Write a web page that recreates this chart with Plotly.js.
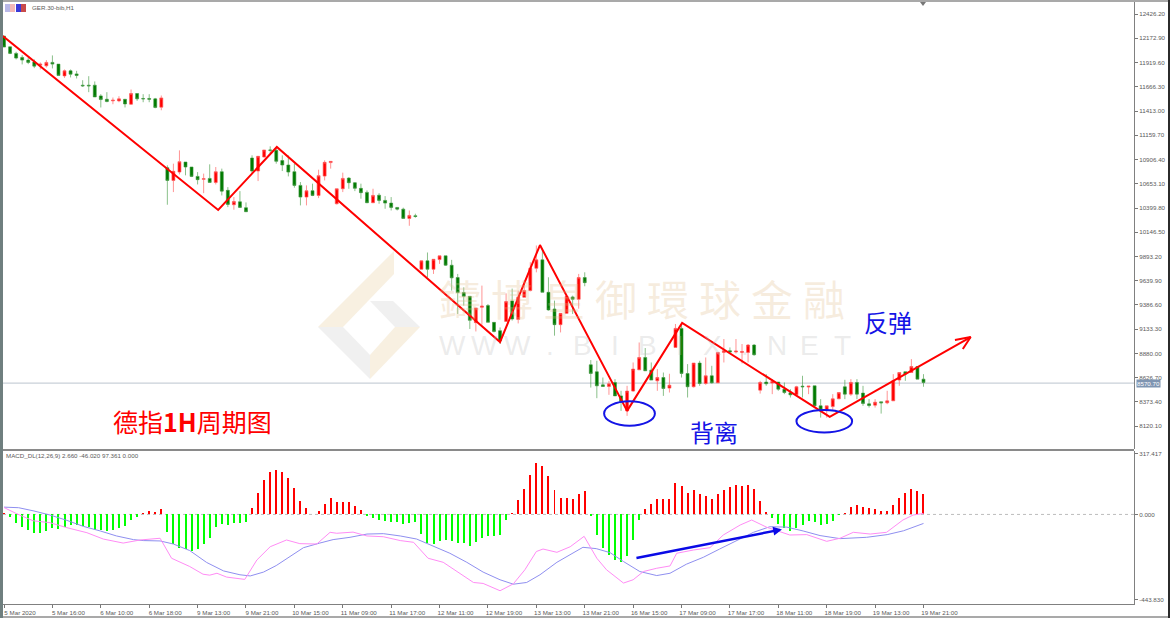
<!DOCTYPE html>
<html>
<head>
<meta charset="utf-8">
<script src="https://cdn.plot.ly/plotly-3.0.1.min.js"></script>
<style>
html, body { margin: 0; padding: 0; background: #fff; overflow: hidden; }
#chart { width: 1170px; height: 618px; }
</style>
</head>
<body>
<div id="chart"></div>
<script>
// GER.30 H1 candles
var opens = [12196,12084,12015,11973,11945,11924,11892,11885,11921,11903,11780,11833,11801,11683,11683,11683,11571,11536,11519,11519,11536,11484,11596,11544,11544,11540,11453,
  10821,10688,10775,10880,10828,10730,10699,10709,10667,10779,10584,10434,10465,10403,
  10922,10786,10932,11006,11003,10895,10849,
  10779,10636,10514,10580,10531,10733,10874,10444,10601,10712,10664,10605,10563,10455,10534,10479,10451,10406,10388,10291,10319,
  9760,9848,9760,9861,9900,9802,9673,9516,9477,9202,9362,9380,9205,9118,9215,9429,9236,9467,9537,9770,9858,9519,9345,9181,9299,9471,9446,9673,
  8762,8689,8552,8535,8577,8437,8280,8487,8709,8838,8706,8594,8629,8518,8943,9142,8671,8532,8780,8566,8647,8573,8891,8909,8895,8891,8891,8968,
  8497,8581,8571,8581,8507,8469,8448,8539,8529,8542,8333,8288,8325,8406,8532,8455,8577,8466,8354,8340,8375,8364,8385,8602,8689,8681,8744,8612];
var highs = [12196,12084,12032,11997,11973,11952,11921,11945,11994,11903,11847,11847,11833,11735,11777,11722,11589,11610,11554,11568,11536,11638,11596,11589,11589,11550,11575,
  10845,10863,11002,10880,10828,10775,10759,10856,10828,10811,10618,10514,10576,10458,
  10950,10940,11006,11044,11037,10950,10950,
  10863,10671,10636,10654,10800,10898,10887,10601,10769,10723,10671,10654,10584,10601,10555,10524,10514,10406,10403,10374,10340,
  9851,9935,9864,9900,9900,9858,9711,9571,9477,9356,9589,9397,9205,9152,9508,9558,9537,9641,9833,10008,9976,9676,9432,9299,9502,9484,9711,9728,
  8811,8804,8629,8594,8612,8490,8542,8786,8995,8937,8786,8717,8681,8668,9188,9188,8769,8780,8804,8838,8751,8891,9031,8943,9031,8979,8979,8979,
  8594,8664,8612,8581,8577,8507,8542,8647,8539,8542,8403,8333,8455,8472,8605,8612,8612,8542,8403,8403,8375,8490,8664,8681,8689,8821,8744,8664];
var lows = [12081,12008,11952,11900,11903,11861,11847,11868,11858,11785,11759,11764,11753,11665,11610,11560,11450,11505,11484,11505,11450,11477,11519,11505,11505,11442,11421,
  10434,10566,10751,10741,10723,10646,10555,10667,10646,10531,10409,10382,10403,10361,
  10765,10681,10926,10974,10863,10786,10730,
  10612,10427,10427,10524,10503,10688,10811,10437,10566,10601,10576,10497,10451,10451,10444,10392,10374,10374,10291,10214,10298,
  9757,9676,9711,9816,9795,9537,9293,9380,9136,9110,9181,9205,9100,8979,9215,9223,9194,9467,9529,9728,9519,9327,9066,9100,9293,9293,9348,9582,
  8524,8413,8535,8448,8437,8280,8228,8479,8709,8699,8602,8490,8437,8472,8943,8629,8420,8524,8542,8552,8566,8573,8786,8880,8880,8776,8786,8856,
  8461,8542,8455,8490,8455,8420,8437,8420,8455,8315,8210,8210,8280,8403,8403,8437,8403,8333,8315,8315,8252,8350,8385,8542,8594,8681,8612,8532];
var closes = [12081,12015,11966,11945,11921,11882,11903,11921,11903,11785,11833,11798,11785,11676,11676,11560,11533,11512,11526,11540,11487,11596,11540,11540,11536,11450,11550,
  10688,10783,10884,10828,10730,10696,10706,10667,10779,10576,10437,10468,10406,10361,
  10786,10940,11006,11003,10887,10849,10775,
  10636,10514,10580,10531,10738,10877,10887,10601,10709,10664,10605,10560,10455,10531,10479,10451,10406,10388,10291,10322,10311,
  9848,9760,9864,9900,9802,9670,9516,9477,9226,9356,9376,9205,9110,9013,9422,9240,9467,9537,9770,9858,9519,9335,9181,9299,9477,9446,9673,9620,
  8671,8542,8535,8563,8437,8377,8487,8717,8838,8699,8602,8629,8514,8549,9142,8671,8532,8780,8566,8647,8573,8891,8909,8895,8905,8901,8968,8867,
  8577,8563,8587,8507,8472,8448,8532,8532,8539,8333,8288,8333,8406,8472,8455,8577,8455,8357,8336,8371,8364,8385,8594,8681,8665,8744,8612,8577];

// MACD histogram, one value per candle
var histVals = [5,-14,-43,-64,-81,-95,-97,-85,-73,-76,-67,-55,-55,-60,-64,-81,-81,-86,-81,-69,-59,-29,-12,
  5,17,14,26,-93,-155,-176,-181,-190,-180,-154,-124,-66,-52,-57,-47,-43,-40,
  35,112,178,223,230,219,188,135,69,31,2,17,54,83,64,67,64,45,22,
  -7,-17,-29,-35,-40,-40,-48,-43,-40,-102,-150,-155,-136,-135,-136,-147,-147,-164,-145,-123,-114,-111,-107,-29,
  7,73,130,204,266,250,199,128,88,86,79,105,121,
  -7,-107,-173,-211,-237,-249,-216,-133,-29,
  29,55,79,79,81,164,149,112,128,105,98,79,107,126,145,152,149,154,133,69,12,
  -21,-52,-69,-85,-72,-55,-35,-41,-55,-52,-35,-5,
  9,41,50,41,31,28,19,19,50,86,109,133,123,104];

var signalX = [0,2.4,4.8,7.6,10.4,13.1,15.9,18.6,21.4,23,25.8,28,30.7,33.5,36.3,39,40.7,42.9,45,47.3,49.5,52.2,54.4,57.2,60,62.7,65.5,68.2,70.9,73.7,76.5,79.2,82,84.2,86.4,88.6,91.4,94.1,95.7,97.9,100.2,102.4,105.1,107.9,110.1,112.8,115.6,118.3,121.1,123.9,126.6,129.4,132.1,134.9,138.2,142.6,146,148.7,152];
var signalY = [38,35,19,-3,-31,-62,-86,-112,-131,-136,-138,-154,-188,-250,-294,-314,-320,-300,-266,-219,-173,-149,-131,-119,-102,-100,-112,-128,-164,-202,-249,-300,-340,-363,-354,-314,-249,-202,-171,-178,-199,-245,-297,-318,-306,-259,-223,-180,-138,-93,-64,-66,-86,-110,-126,-119,-105,-85,-47];
var macdX = [0,2,4.8,7.6,10.4,13.7,16.4,19.7,22.5,25.8,27.7,30.7,32.9,34,35.2,36.8,39.8,41.8,44,46.7,48.9,51.7,53.9,55,57.7,60,62.7,65.5,67.7,70.1,72.6,75.4,77.6,79.2,82,84.2,86.1,88,89.1,91.4,93.6,95.9,98,99.6,102.4,104,105.7,107.9,110.1,111.2,114,116.7,118.9,121.7,123.6,126.1,128.8,129.9,132.7,136,138.2,140.4,143.2,145.9,148.6,150.3,152];
var macdY = [36,5,-33,-43,-69,-95,-128,-149,-133,-124,-228,-271,-311,-316,-306,-326,-338,-237,-168,-133,-152,-154,-93,-98,-92,-112,-116,-136,-145,-228,-249,-306,-354,-359,-397,-361,-288,-193,-180,-197,-168,-114,-228,-288,-357,-340,-297,-280,-268,-202,-185,-173,-107,-55,-29,-67,-93,-107,-105,-140,-124,-93,-102,-93,-29,-3,5];

// hand drawn wave line on the price pane, and the open head of its arrow
var waveX = [-0.2,35.4,45.1,82,88.6,103,112.1,136.5,159.8];
var waveY = [12196,10379,11037,9000,10013,8280,9199,8217,9052];
var headX = [157.2,159.8,158.5];
var headY = [9021,9052,8927];

var priceTicks = [12426.2,12172.9,11919.6,11666.3,11413,11159.7,10906.4,10653.1,10399.8,10146.5,9893.2,9639.9,9386.6,9133.3,8880,8626.7,8373.4,8120.1];
var macdTicks = [317.417,0,-443.83];
var macdTickText = ['317.417','0.000','-443.830'];
var timeTicks = [0,8,16,24,32,40,48,56,64,72,80,88,96,104,112,120,128,136,144,152];
var timeLabels = ['5 Mar 2020','5 Mar 16:00','6 Mar 10:00','6 Mar 18:00','9 Mar 13:00','9 Mar 21:00','10 Mar 15:00','11 Mar 09:00','11 Mar 17:00','12 Mar 11:00','12 Mar 19:00','13 Mar 13:00','13 Mar 21:00','16 Mar 15:00','17 Mar 09:00','17 Mar 17:00','18 Mar 11:00','18 Mar 19:00','19 Mar 13:00','19 Mar 21:00'];
var lastPrice = 8570.7;
var markChars = ['鑄','博','皇','御','環','球','金','融'];
var markLetters = ['W','W','W','.','B','I','B','I','X','.','N','E','T'];

var W = 1170, H = 618;
var L = 3, R = 1134, T = 2, B = 604;
function px(x) { return (x - L) / (R - L); }
function py(y) { return (B - y) / (B - T); }

var idx = opens.map(function (v, i) { return i; });
var labelFont = { family: 'Liberation Sans', size: 6.2, color: '#5a5a5a' };
var xRange = [-0.17, 186.8];

var data = [
  {
    type: 'candlestick', x: idx, open: opens, high: highs, low: lows, close: closes,
    xaxis: 'x', yaxis: 'y', whiskerwidth: 0, hoverinfo: 'skip',
    increasing: { line: { color: 'rgba(255,90,90,0.65)', width: 1 }, fillcolor: '#ff0000' },
    decreasing: { line: { color: 'rgba(60,150,60,0.6)', width: 1 }, fillcolor: '#007a00' }
  },
  {
    type: 'scatter', mode: 'lines', x: waveX, y: waveY, xaxis: 'x', yaxis: 'y',
    line: { color: '#ff0000', width: 2 }, hoverinfo: 'skip'
  },
  {
    type: 'scatter', mode: 'lines', x: headX, y: headY, xaxis: 'x', yaxis: 'y',
    line: { color: '#ff0000', width: 2 }, hoverinfo: 'skip'
  },
  {
    type: 'bar', x: idx, y: histVals, xaxis: 'x2', yaxis: 'y2', width: 0.33,
    marker: { color: histVals.map(function (v) { return v >= 0 ? '#ff0000' : '#00ff00'; }) },
    hoverinfo: 'skip'
  },
  {
    type: 'scatter', mode: 'lines', x: signalX, y: signalY, xaxis: 'x2', yaxis: 'y2',
    line: { color: '#8f8ff0', width: 1 }, hoverinfo: 'skip'
  },
  {
    type: 'scatter', mode: 'lines', x: macdX, y: macdY, xaxis: 'x2', yaxis: 'y2',
    line: { color: '#ff8cf5', width: 1 }, hoverinfo: 'skip'
  }
];

function paperRect(x0, y0, x1, y1, color) {
  return { type: 'rect', xref: 'paper', yref: 'paper', x0: px(x0), x1: px(x1), y0: py(y0), y1: py(y1),
           fillcolor: color, line: { width: 0 }, layer: 'above' };
}
function paperPoly(points, color) {
  var path = points.map(function (p, i) { return (i ? 'L' : 'M') + px(p[0]) + ' ' + py(p[1]); }).join(' ') + ' Z';
  return { type: 'path', xref: 'paper', yref: 'paper', path: path, fillcolor: color, line: { width: 0 }, layer: 'below' };
}
function placedText(x, y, text, font) {
  return { xref: 'paper', yref: 'paper', x: px(x), y: py(y), xanchor: 'center', yanchor: 'middle', showarrow: false, text: text, font: font };
}

var shapes = [
  // watermark logo
  paperPoly([[394,251],[394,274],[343,327],[318,327]], '#f8f0e1'),
  paperPoly([[318,327],[343,327],[370,355],[370,379]], '#f0f0f0'),
  paperPoly([[370,301],[393,301],[420,327],[395,327]], '#f0f0f0'),
  paperPoly([[420,327],[395,327],[370,355],[370,379]], '#f8f0e1'),
  // last price line
  { type: 'line', xref: 'paper', yref: 'y', x0: 0, x1: 1, y0: lastPrice, y1: lastPrice, line: { color: '#c9d0d8', width: 1.3 }, layer: 'below' },
  // macd zero level
  { type: 'line', xref: 'paper', yref: 'y2', x0: 0, x1: 1, y0: 0, y1: 0, line: { color: '#bdbdbd', width: 1, dash: 'dot' }, layer: 'below' },
  // ellipses round the two lows
  { type: 'circle', xref: 'x', yref: 'y', x0: 99.2, x1: 107.6, y0: 8125, y1: 8380, line: { color: '#1414e6', width: 2 } },
  { type: 'circle', xref: 'x', yref: 'y', x0: 131, x1: 140.2, y0: 8055, y1: 8290, line: { color: '#1414e6', width: 2 } },
  // window frame
  paperRect(0, 0, W, 2, '#a9a9a9'),
  paperRect(0, 0, 3, H, '#6f7f7f'),
  paperRect(1168, 0, W, H, '#2b2b2b'),
  paperRect(3, 449, 1134, 451, '#8a8a8a'),
  paperRect(3, 616, 1168, 618, '#a9a9a9'),
  // chart symbol icons
  paperRect(5, 4, 10, 12, '#b9b9e8'),
  paperRect(10, 4, 15, 12, '#f3b7b7'),
  paperRect(16, 4, 21, 12, '#3a3ad8'),
  paperRect(21, 4, 26, 12, '#c84a4a'),
  // shift marker on the top edge
  { type: 'path', xref: 'paper', yref: 'paper', layer: 'above', fillcolor: '#777', line: { width: 0 },
    path: 'M' + px(920) + ' ' + py(2) + ' L' + px(926) + ' ' + py(2) + ' L' + px(923) + ' ' + py(6) + ' Z' }
];

var annotations = [
  { xref: 'paper', yref: 'paper', x: px(30), y: py(8), xanchor: 'left', yanchor: 'middle', showarrow: false, text: 'GER.30-bib,H1', font: labelFont },
  { xref: 'paper', yref: 'paper', x: px(3.5), y: py(455), xanchor: 'left', yanchor: 'middle', showarrow: false, text: 'MACD_DL(12,26,9) 2.660 -46.020 97.361 0.000', font: labelFont },
  placedText(192, 421, '德指<b>1H</b>周期图', { family: 'Noto Sans CJK SC', size: 25, color: '#ff0000' }),
  placedText(714, 431, '背离', { family: 'Noto Sans CJK SC', size: 24, color: '#1414e6' }),
  placedText(888, 322, '反弹', { family: 'Noto Sans CJK SC', size: 24, color: '#1414e6' }),
  // last price tag on the axis
  { xref: 'paper', yref: 'y', x: 1, y: lastPrice, xanchor: 'left', yanchor: 'middle', xshift: 2, showarrow: false, text: lastPrice.toFixed(2),
    bgcolor: '#7f95b2', borderpad: 0, font: { family: 'Liberation Sans', size: 6.2, color: '#fff' } },
  // blue arrow on the macd pane
  { xref: 'x2', yref: 'y2', axref: 'x2', ayref: 'y2', x: 128.6, y: -78, ax: 104.3, ay: -228, text: '', showarrow: true,
    arrowhead: 2, arrowsize: 0.7, arrowwidth: 2.5, arrowcolor: '#0a0ae6' }
];
markChars.forEach(function (c, k) {
  annotations.push(placedText(460 + k * 52, 297, c, { family: 'Noto Sans CJK TC', size: 42, color: 'rgba(226,190,140,0.28)' }));
});
markLetters.forEach(function (c, k) {
  annotations.push(placedText(452 + k * 32.5, 345, c, { family: 'Liberation Sans', size: 28, color: 'rgba(190,190,190,0.3)' }));
});

var layout = {
  width: W,
  height: H,
  margin: { l: L, r: W - R, t: T, b: H - B, pad: 0 },
  paper_bgcolor: '#ffffff',
  plot_bgcolor: 'rgba(0,0,0,0)',
  showlegend: false,
  bargap: 0,
  xaxis: {
    domain: [0, 1], anchor: 'y', range: xRange, showgrid: false, zeroline: false,
    showticklabels: false, ticks: '', rangeslider: { visible: false }
  },
  yaxis: {
    domain: [py(449), 1], anchor: 'x', side: 'right', range: [7882, 12552], showgrid: false, zeroline: false,
    tickmode: 'array', tickvals: priceTicks, ticktext: priceTicks.map(function (v) { return v.toFixed(2); }),
    ticks: 'outside', ticklen: 3, tickcolor: '#777', tickfont: labelFont,
    showline: true, linecolor: '#808080', linewidth: 1
  },
  xaxis2: {
    domain: [0, 1], anchor: 'y2', range: xRange, showgrid: false, zeroline: false,
    tickmode: 'array', tickvals: timeTicks, ticktext: timeLabels, tickangle: 0,
    ticks: 'outside', ticklen: 3, tickcolor: '#777', tickfont: labelFont, ticklabelshift: 16,
    showline: true, linecolor: '#808080', linewidth: 1
  },
  yaxis2: {
    domain: [0, py(451)], anchor: 'x2', side: 'right', range: [-466, 330], showgrid: false, zeroline: false,
    tickmode: 'array', tickvals: macdTicks, ticktext: macdTickText,
    ticks: 'outside', ticklen: 3, tickcolor: '#777', tickfont: labelFont,
    showline: true, linecolor: '#808080', linewidth: 1
  },
  shapes: shapes,
  annotations: annotations
};

Plotly.newPlot('chart', data, layout, { displayModeBar: false, staticPlot: true });
</script>
</body>
</html>
